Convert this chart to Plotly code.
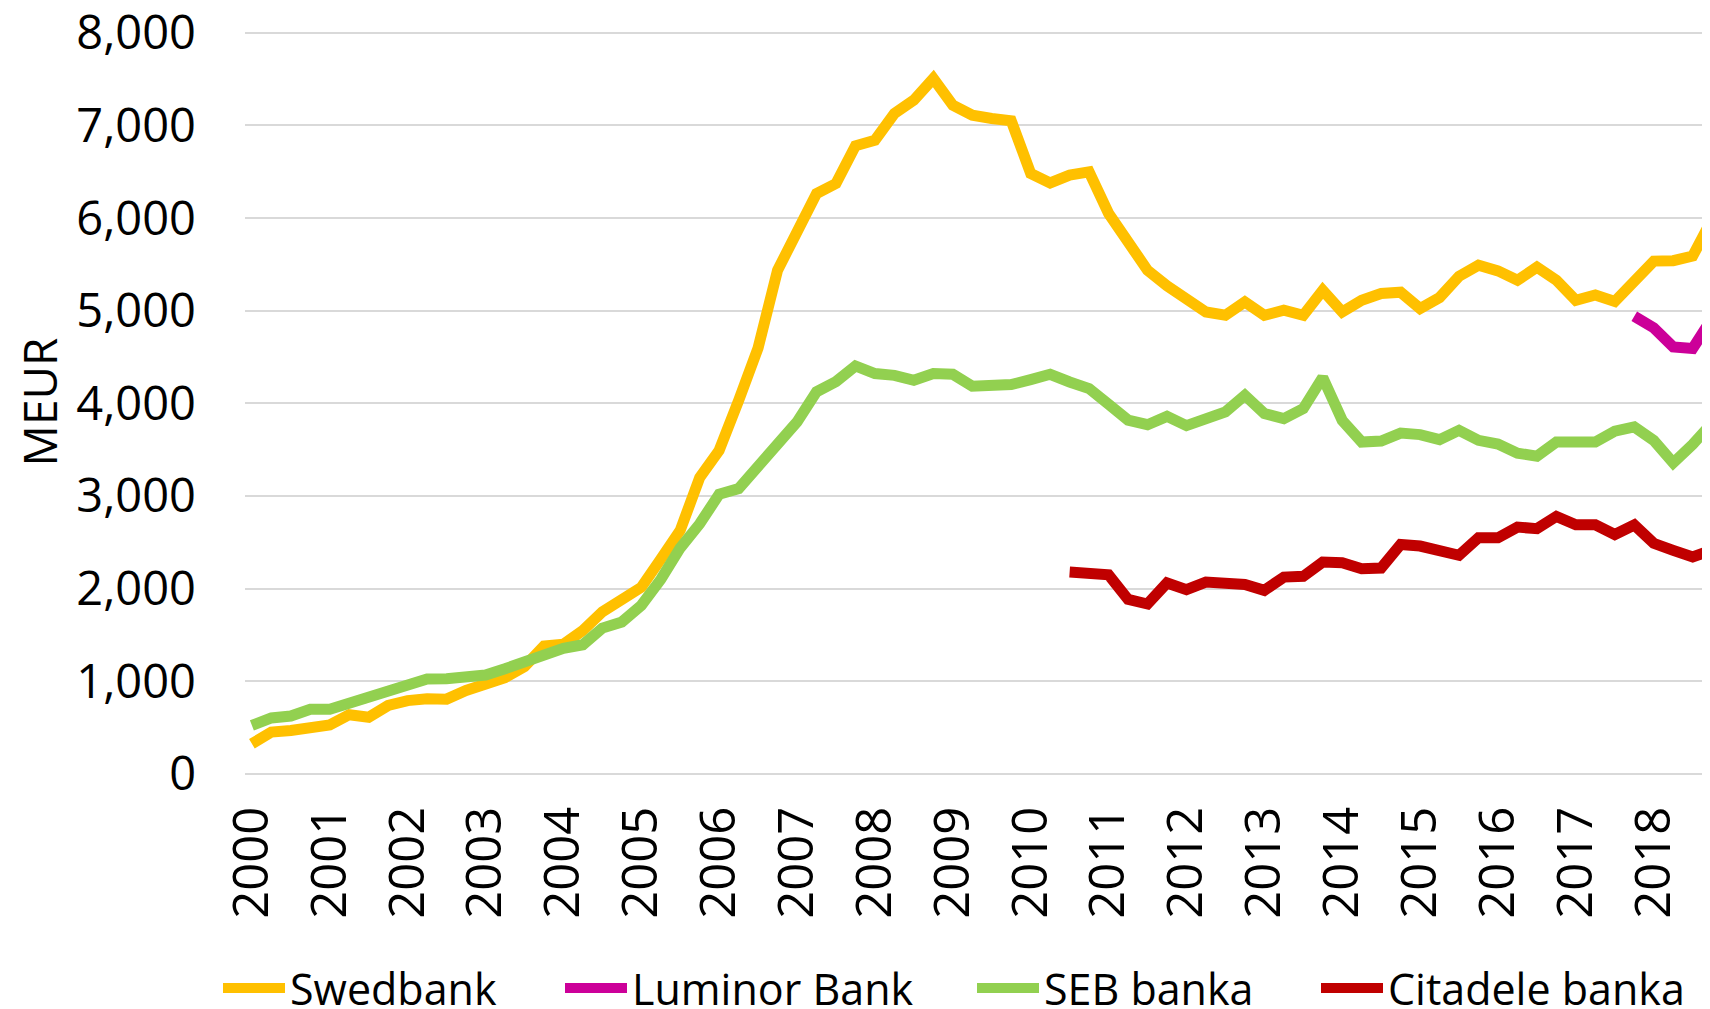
import plotly.graph_objects as go

quarters = [f"{y} Q{q}" for y in range(2000, 2019) for q in range(1, 5)]
year_ticks = [f"{y} Q1" for y in range(2000, 2019)]
year_labels = [str(y) for y in range(2000, 2019)]

swedbank = [326, 452, 470, 500, 530, 640, 612, 740, 792, 812, 808, 902, 956, 1040, 1160, 1380,
            1400, 1550, 1750, 1880, 2015, 2320, 2630, 3200, 3493, 4030, 4600, 5437, 5840, 6265,
            6373, 6780, 6841, 7129, 7273, 7507, 7219, 7111, 7075, 7050, 6481, 6380, 6463, 6499,
            6050, 5761, 5437, 5270, 5140, 4987, 4951, 5095, 4951, 5005, 4951, 5221, 4987, 5113,
            5186, 5200, 5024, 5142, 5372, 5491, 5430, 5329, 5470, 5330, 5113, 5170, 5100, 5338,
            5536, 5540, 5590, 5990]

luminor = [None] * 71 + [4940, 4815, 4609, 4592, 4920]

seb = [524, 605, 626, 698, 698, 767, 848, 893, 961, 1026, 1028, 1055, 1068, 1136, 1208, 1289,
       1357, 1395, 1575, 1640, 1820, 2100, 2440, 2700, 3020, 3080, 3320, 3595, 3800, 4125,
       4235, 4404, 4322, 4303, 4249, 4322, 4314, 4185, 4195, 4203, 4257, 4314, 4231, 4160,
       3990, 3820, 3770, 3860, 3760, 3820, 3907, 4087, 3890, 3836, 3944, 4280, 3817, 3583,
       3594, 3680, 3663, 3609, 3709, 3601, 3562, 3463, 3430, 3583, 3583, 3583, 3700, 3746,
       3600, 3358, 3557, 3790]

citadele = [None] * 42 + [2179, 2160, 2150, 1885, 1835, 2062, 1990, 2071, 2055, 2046, 1982,
                          2125, 2133, 2287, 2281, 2216, 2223, 2478, 2460, 2424, 2360, 2550,
                          2550, 2665, 2648, 2780, 2690, 2690, 2585, 2688, 2490, 2414, 2342,
                          2420]

series = [
    ("Swedbank", swedbank, "#FFC000", "legend"),
    ("Luminor Bank", luminor, "#CC0099", "legend2"),
    ("SEB banka", seb, "#92D050", "legend3"),
    ("Citadele banka", citadele, "#C00000", "legend4"),
]

FONT = "Open Sans, Noto Sans, sans-serif"
W, H = 1702, 1001  # page body adds an 8px offset

fig = go.Figure()
for name, vals, color, lg in series:
    fig.add_trace(go.Scatter(
        x=quarters, y=vals, name=name, mode="lines",
        line=dict(color=color, width=11),
        legend=lg, hoverinfo="skip",
    ))

legend_x = [210, 552, 964, 1308]
legend_w = [230, 290, 230, 310]
legend_common = dict(
    xref="container", yref="container", xanchor="left", yanchor="middle",
    y=1 - 980 / H, orientation="h", bgcolor="rgba(0,0,0,0)", borderwidth=0,
    font=dict(family=FONT, size=43, color="#000000"), itemwidth=62,
    entrywidthmode="pixels",
)
layout_legends = {}
for k, lg in enumerate(["legend", "legend2", "legend3", "legend4"]):
    layout_legends[lg] = dict(x=legend_x[k] / W, entrywidth=legend_w[k], **legend_common)

fig.update_layout(
    width=W, height=H,
    margin=dict(l=237, r=0, t=22, b=H - 766, pad=0, autoexpand=False),
    paper_bgcolor="white", plot_bgcolor="white",
    showlegend=True,
    font=dict(family=FONT, color="#000000"),
    xaxis=dict(
        type="category", range=[-0.354, 74.89],
        tickmode="array", tickvals=year_ticks, ticktext=year_labels,
        tickangle=-90, tickfont=dict(family=FONT, size=49, color="#000000"),
        showgrid=False, zeroline=False, showline=False, ticks="",
        ticklabelstandoff=22, automargin=False,
    ),
    yaxis=dict(
        range=[0, 8030], tickmode="array", tickvals=list(range(0, 8001, 1000)),
        tickformat=",", ticklabeloverflow="allow", automargin=False,
        tickfont=dict(family=FONT, size=47, color="#000000"),
        showgrid=True, gridcolor="#D9D9D9", gridwidth=2,
        zeroline=True, zerolinecolor="#D9D9D9", zerolinewidth=2,
        showline=False, ticks="", ticklabelstandoff=48,
        title=dict(text="MEUR", font=dict(family=FONT, size=46, color="#000000"), standoff=16),
    ),
    **layout_legends,
)

fig.write_html("out.html")
